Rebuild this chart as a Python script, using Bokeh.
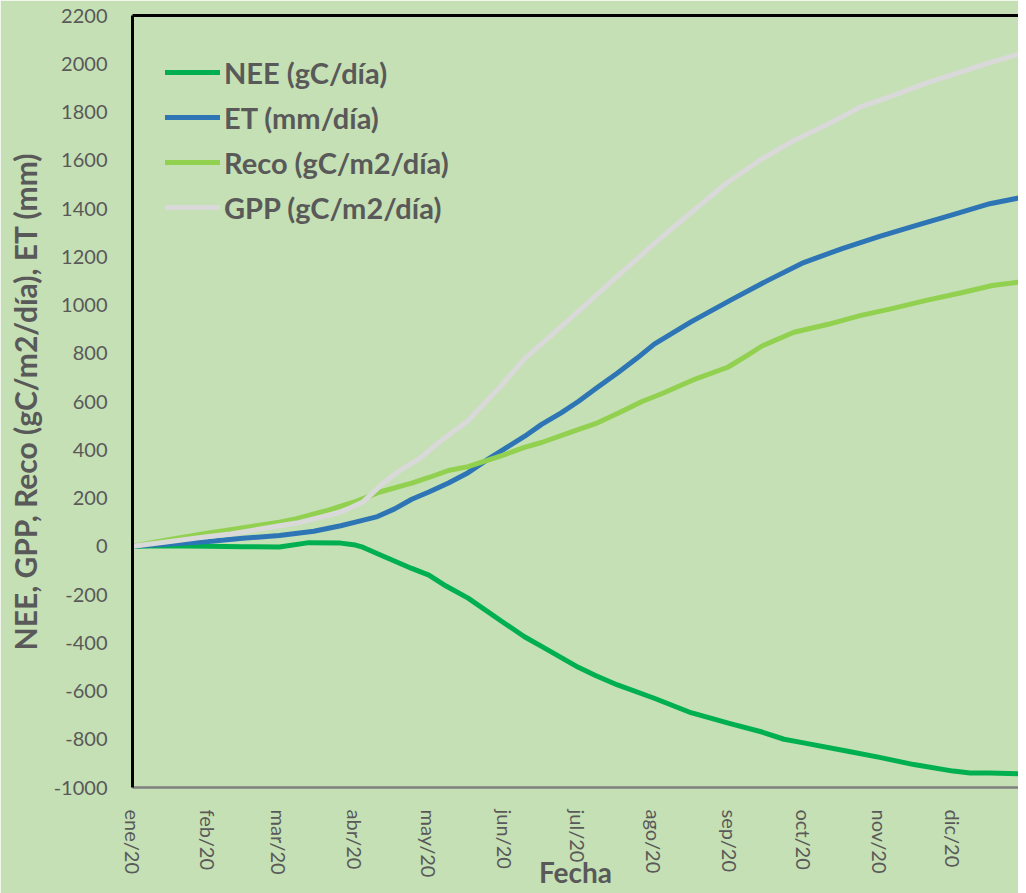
from bokeh.plotting import figure
from bokeh.models import Range1d, FixedTicker, LinearAxis, Legend, LegendItem
from bokeh.embed import file_html
from bokeh.resources import INLINE

# ---- data (days since 2020-01-01, cumulative values) ----
month_days = [0, 31, 60, 91, 121, 152, 182, 213, 244, 274, 305, 335]
month_labels = ["ene/20", "feb/20", "mar/20", "abr/20", "may/20", "jun/20",
                "jul/20", "ago/20", "sep/20", "oct/20", "nov/20", "dic/20"]
y_ticks = [-1000, -800, -600, -400, -200, 0, 200, 400, 600, 800, 1000,
           1200, 1400, 1600, 1800, 2000, 2200]

nee_days = [0, 14, 31, 45, 60, 72, 85, 91, 94, 101, 114, 121, 128, 137, 152, 160, 167,
            182, 189, 198, 213, 228, 244, 257, 266, 274, 292, 305, 319, 335, 342, 350, 362]
nee_vals = [0, 2, 0, -2, -3, 15, 13, 5, -4, -35, -92, -120, -165, -215, -320, -375, -415,
            -502, -536, -575, -630, -690, -735, -770, -800, -815, -850, -875, -905, -932, -940, -940, -943]

et_days = [0, 12, 31, 45, 60, 74, 85, 91, 100, 107, 114, 121, 129, 137, 145, 152, 160, 167,
           175, 182, 190, 198, 206, 213, 228, 244, 259, 274, 290, 305, 320, 335, 350, 362]
et_vals = [0, 7, 20, 33, 45, 62, 85, 100, 123, 155, 195, 225, 262, 305, 360, 405, 455, 505,
           553, 600, 660, 718, 780, 838, 930, 1019, 1100, 1176, 1235, 1284, 1330, 1375, 1420, 1444]

reco_days = [0, 13, 31, 40, 60, 67, 80, 86, 91, 101, 114, 121, 129, 137, 152, 160, 167, 181,
             189, 198, 208, 216, 230, 243, 250, 257, 270, 284, 297, 310, 324, 338, 351, 362]
reco_vals = [0, 24, 55, 68, 100, 114, 150, 169, 185, 225, 262, 285, 314, 330, 380, 410, 430, 480,
             508, 550, 600, 632, 694, 742, 785, 830, 887, 920, 956, 985, 1019, 1050, 1081, 1095]

gpp_days = [0, 13, 31, 40, 60, 67, 85, 94, 100, 102, 110, 117, 126, 137, 150, 160, 175, 187,
            198, 216, 230, 243, 257, 270, 284, 297, 311, 324, 338, 350, 362]
gpp_vals = [0, 17, 40, 51, 85, 96, 141, 183, 240, 259, 320, 362, 438, 520, 660, 777, 910, 1019,
            1120, 1281, 1400, 1509, 1606, 1682, 1750, 1820, 1870, 1920, 1965, 2005, 2040]

series = [
    ("NEE (gC/día)", nee_days, nee_vals, "#00B050"),
    ("ET (mm/día)", et_days, et_vals, "#2E75B6"),
    ("Reco (gC/m2/día)", reco_days, reco_vals, "#92D050"),
    ("GPP (gC/m2/día)", gpp_days, gpp_vals, "#D9D9D9"),
]

BG = "#C5E0B4"
TXT = "#595959"
FONT = "Lato"

p = figure(width=1018, height=893, output_backend="svg", toolbar_location=None,
           x_range=Range1d(0, 361.7), y_range=Range1d(-1000, 2200),
           min_border_left=132, min_border_right=0, min_border_top=15, min_border_bottom=106)
p.background_fill_color = BG
p.border_fill_color = BG
p.outline_line_color = None
p.xgrid.visible = False
p.ygrid.visible = False

items = []
for name, d, v, c in series:
    r = p.line(d, v, line_color=c, line_width=5, line_cap="round", line_join="round")
    items.append(LegendItem(label=name, renderers=[r]))

# y axis
ya = p.yaxis[0]
ya.ticker = FixedTicker(ticks=y_ticks)
ya.major_label_overrides = {t: str(t) for t in y_ticks}
ya.axis_line_color = "black"
ya.axis_line_width = 3
ya.major_tick_line_color = None
ya.minor_tick_line_color = None
ya.major_label_text_font = FONT
ya.major_label_text_font_size = "20px"
ya.major_label_text_color = TXT
ya.major_label_standoff = 19
ya.axis_label = "NEE, GPP, Reco (gC/m2/día), ET (mm)"
ya.axis_label_text_font = FONT
ya.axis_label_text_font_style = "bold"
ya.axis_label_text_font_size = "30px"
ya.axis_label_text_color = TXT
ya.axis_label_standoff = 8

# x axis
xa = p.xaxis[0]
xa.ticker = FixedTicker(ticks=month_days)
xa.major_label_overrides = {d: l for d, l in zip(month_days, month_labels)}
xa.major_label_orientation = "vertical"
xa.axis_line_color = "#7F7F7F"
xa.axis_line_width = 2.5
xa.major_tick_line_color = None
xa.minor_tick_line_color = None
xa.major_label_text_font = FONT
xa.major_label_text_font_size = "20px"
xa.major_label_text_color = TXT
xa.major_label_standoff = 16
xa.axis_label = "Fecha"
xa.axis_label_text_font = FONT
xa.axis_label_text_font_style = "bold"
xa.axis_label_text_font_size = "28px"
xa.axis_label_text_line_height = 0.8
xa.axis_label_text_color = TXT
xa.axis_label_standoff = -25

# top border
top = LinearAxis(ticker=FixedTicker(ticks=[]), axis_line_color="black", axis_line_width=3,
                 major_tick_line_color=None, minor_tick_line_color=None,
                 major_label_text_font_size="0px")
p.add_layout(top, "above")

legend = Legend(items=items, location=(33, 560), orientation="vertical",
                background_fill_alpha=0, border_line_color=None,
                glyph_width=55, glyph_height=40, label_height=40, spacing=5,
                label_standoff=4, padding=0, margin=0,
                label_text_font=FONT, label_text_font_style="bold",
                label_text_font_size="29px", label_text_color=TXT)
p.add_layout(legend)

open("out.html", "w").write(file_html(p, INLINE))
